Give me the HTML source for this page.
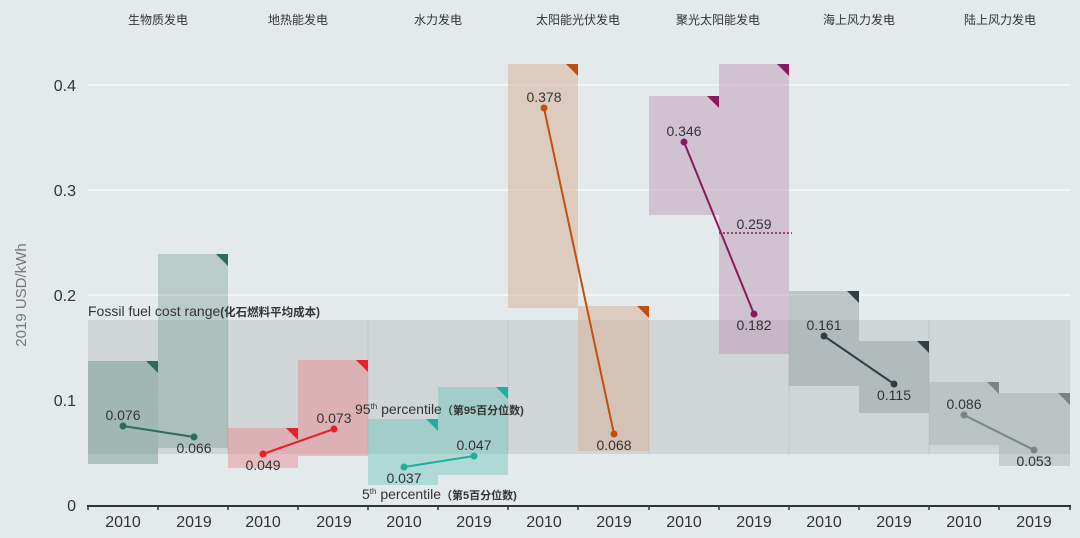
<!DOCTYPE html><html><head><meta charset="utf-8"><style>body{margin:0;background:#e4e9ec}svg{display:block}text{font-family:"Liberation Sans","Noto Sans CJK SC",sans-serif}</style></head><body>
<svg width="1080" height="538" viewBox="0 0 1080 538" xmlns="http://www.w3.org/2000/svg">
<rect width="1080" height="538" fill="#e4e9ec"/>
<g stroke="#f6f8f9" stroke-width="1.5"><line x1="88" x2="1070" y1="400" y2="400"/><line x1="88" x2="1070" y1="295" y2="295"/><line x1="88" x2="1070" y1="190" y2="190"/><line x1="88" x2="1070" y1="85" y2="85"/></g>
<rect x="88" y="320" width="982" height="134" fill="#cdd2d5" opacity="0.85"/>
<g stroke="#bfc5c8" stroke-width="1"><line x1="228" x2="228" y1="320" y2="454"/><line x1="368" x2="368" y1="320" y2="454"/><line x1="508" x2="508" y1="320" y2="454"/><line x1="649" x2="649" y1="320" y2="454"/><line x1="789" x2="789" y1="320" y2="454"/><line x1="929" x2="929" y1="320" y2="454"/></g>
<g font-size="12" fill="#333" text-anchor="middle"><text x="158" y="24">生物质发电</text><text x="298" y="24">地热能发电</text><text x="438" y="24">水力发电</text><text x="578" y="24">太阳能光伏发电</text><text x="718" y="24">聚光太阳能发电</text><text x="859" y="24">海上风力发电</text><text x="1000" y="24">陆上风力发电</text></g>
<g>
<rect x="88" y="361" width="70" height="103" fill="#5a8a7c" opacity="0.4"/><rect x="158" y="254" width="70" height="194" fill="#5a8a7c" opacity="0.3"/>
<rect x="228" y="428" width="70" height="40" fill="#e8868c" opacity="0.45"/><rect x="298" y="360" width="70" height="96" fill="#e8868c" opacity="0.45"/>
<rect x="368" y="419" width="70" height="66" fill="#5dc0b5" opacity="0.4"/><rect x="438" y="387" width="70" height="88" fill="#5dc0b5" opacity="0.4"/>
<rect x="508" y="64" width="70" height="244" fill="#d8b39a" opacity="0.55"/><rect x="578" y="306" width="71" height="145" fill="#d8b39a" opacity="0.55"/>
<rect x="649" y="96" width="70" height="119" fill="#b793b0" opacity="0.45"/><rect x="719" y="64" width="70" height="290" fill="#b793b0" opacity="0.45"/>
<rect x="789" y="291" width="70" height="95" fill="#8f999c" opacity="0.45"/><rect x="859" y="341" width="70" height="72" fill="#8f999c" opacity="0.45"/>
<rect x="929" y="382" width="70" height="63" fill="#a5aeac" opacity="0.45"/><rect x="999" y="393" width="71" height="73" fill="#a5aeac" opacity="0.45"/>
</g>
<g>
<polygon points="146,361 158,361 158,373" fill="#2e6b5a"/><polygon points="216,254 228,254 228,266" fill="#2e6b5a"/>
<polygon points="286,428 298,428 298,440" fill="#e8202a"/><polygon points="356,360 368,360 368,372" fill="#e8202a"/>
<polygon points="426,419 438,419 438,431" fill="#1fada0"/><polygon points="496,387 508,387 508,399" fill="#1fada0"/>
<polygon points="566,64 578,64 578,76" fill="#c05010"/><polygon points="637,306 649,306 649,318" fill="#c05010"/>
<polygon points="707,96 719,96 719,108" fill="#8a1a5e"/><polygon points="777,64 789,64 789,76" fill="#8a1a5e"/>
<polygon points="847,291 859,291 859,303" fill="#2f3f45"/><polygon points="917,341 929,341 929,353" fill="#2f3f45"/>
<polygon points="987,382 999,382 999,394" fill="#7a8580"/><polygon points="1058,393 1070,393 1070,405" fill="#7a8580"/>
</g>
<line x1="719" x2="792" y1="233" y2="233" stroke="#8a1a5e" stroke-width="1.5" stroke-dasharray="2,2"/>
<g stroke-width="2">
<line x1="123" y1="426" x2="194" y2="437" stroke="#2e6b5a"/><line x1="263" y1="454" x2="334" y2="429" stroke="#e8202a"/>
<line x1="404" y1="467" x2="474" y2="456" stroke="#1fada0"/><line x1="544" y1="108" x2="614" y2="434" stroke="#c05010"/>
<line x1="684" y1="142" x2="754" y2="314" stroke="#8a1a5e"/><line x1="824" y1="336" x2="894" y2="384" stroke="#2f3f45"/>
<line x1="964" y1="415" x2="1034" y2="450" stroke="#7a8580"/>
</g>
<g>
<circle cx="123" cy="426" r="3.5" fill="#2e6b5a"/><circle cx="194" cy="437" r="3.5" fill="#2e6b5a"/>
<circle cx="263" cy="454" r="3.5" fill="#e8202a"/><circle cx="334" cy="429" r="3.5" fill="#e8202a"/>
<circle cx="404" cy="467" r="3.5" fill="#1fada0"/><circle cx="474" cy="456" r="3.5" fill="#1fada0"/>
<circle cx="544" cy="108" r="3.5" fill="#c05010"/><circle cx="614" cy="434" r="3.5" fill="#c05010"/>
<circle cx="684" cy="142" r="3.5" fill="#8a1a5e"/><circle cx="754" cy="314" r="3.5" fill="#8a1a5e"/>
<circle cx="824" cy="336" r="3.5" fill="#2f3f45"/><circle cx="894" cy="384" r="3.5" fill="#2f3f45"/>
<circle cx="964" cy="415" r="3.5" fill="#7a8580"/><circle cx="1034" cy="450" r="3.5" fill="#7a8580"/>
</g>
<g font-size="14" fill="#333" text-anchor="middle">
<text x="123" y="420">0.076</text><text x="194" y="453">0.066</text>
<text x="263" y="470">0.049</text><text x="334" y="423">0.073</text>
<text x="404" y="483">0.037</text><text x="474" y="450">0.047</text>
<text x="544" y="102">0.378</text><text x="614" y="450">0.068</text>
<text x="684" y="136">0.346</text><text x="754" y="229">0.259</text><text x="754" y="330">0.182</text>
<text x="824" y="330">0.161</text><text x="894" y="400">0.115</text>
<text x="964" y="409">0.086</text><text x="1034" y="466">0.053</text>
</g>
<text x="88" y="316" font-size="14" fill="#333">Fossil fuel cost range<tspan font-size="11.5" font-weight="bold">(化石燃料平均成本)</tspan></text>
<text x="355" y="414" font-size="14" fill="#333">95<tspan font-size="8" dy="-5">th</tspan><tspan dy="5"> percentile</tspan><tspan font-size="11" font-weight="bold">（第95百分位数)</tspan></text>
<text x="362" y="499" font-size="14" fill="#333">5<tspan font-size="8" dy="-5">th</tspan><tspan dy="5"> percentile</tspan><tspan font-size="11" font-weight="bold">（第5百分位数)</tspan></text>
<line x1="87" x2="1071" y1="506" y2="506" stroke="#333" stroke-width="2"/>
<g stroke="#333" stroke-width="1.5"><line x1="88" x2="88" y1="506" y2="510"/><line x1="158" x2="158" y1="506" y2="510"/><line x1="228" x2="228" y1="506" y2="510"/><line x1="298" x2="298" y1="506" y2="510"/><line x1="368" x2="368" y1="506" y2="510"/><line x1="438" x2="438" y1="506" y2="510"/><line x1="508" x2="508" y1="506" y2="510"/><line x1="578" x2="578" y1="506" y2="510"/><line x1="649" x2="649" y1="506" y2="510"/><line x1="719" x2="719" y1="506" y2="510"/><line x1="789" x2="789" y1="506" y2="510"/><line x1="859" x2="859" y1="506" y2="510"/><line x1="929" x2="929" y1="506" y2="510"/><line x1="999" x2="999" y1="506" y2="510"/><line x1="1070" x2="1070" y1="506" y2="510"/></g>
<g font-size="16" fill="#333" text-anchor="middle">
<text x="123" y="527">2010</text><text x="194" y="527">2019</text><text x="263" y="527">2010</text><text x="334" y="527">2019</text><text x="404" y="527">2010</text><text x="474" y="527">2019</text><text x="544" y="527">2010</text><text x="614" y="527">2019</text><text x="684" y="527">2010</text><text x="754" y="527">2019</text><text x="824" y="527">2010</text><text x="894" y="527">2019</text><text x="964" y="527">2010</text><text x="1034" y="527">2019</text>
</g>
<g font-size="16" fill="#333" text-anchor="end"><text x="76" y="511">0</text><text x="76" y="406">0.1</text><text x="76" y="301">0.2</text><text x="76" y="196">0.3</text><text x="76" y="91">0.4</text></g>
<text transform="translate(26,295) rotate(-90)" font-size="15" fill="#777" text-anchor="middle">2019 USD/kWh</text>
</svg></body></html>
